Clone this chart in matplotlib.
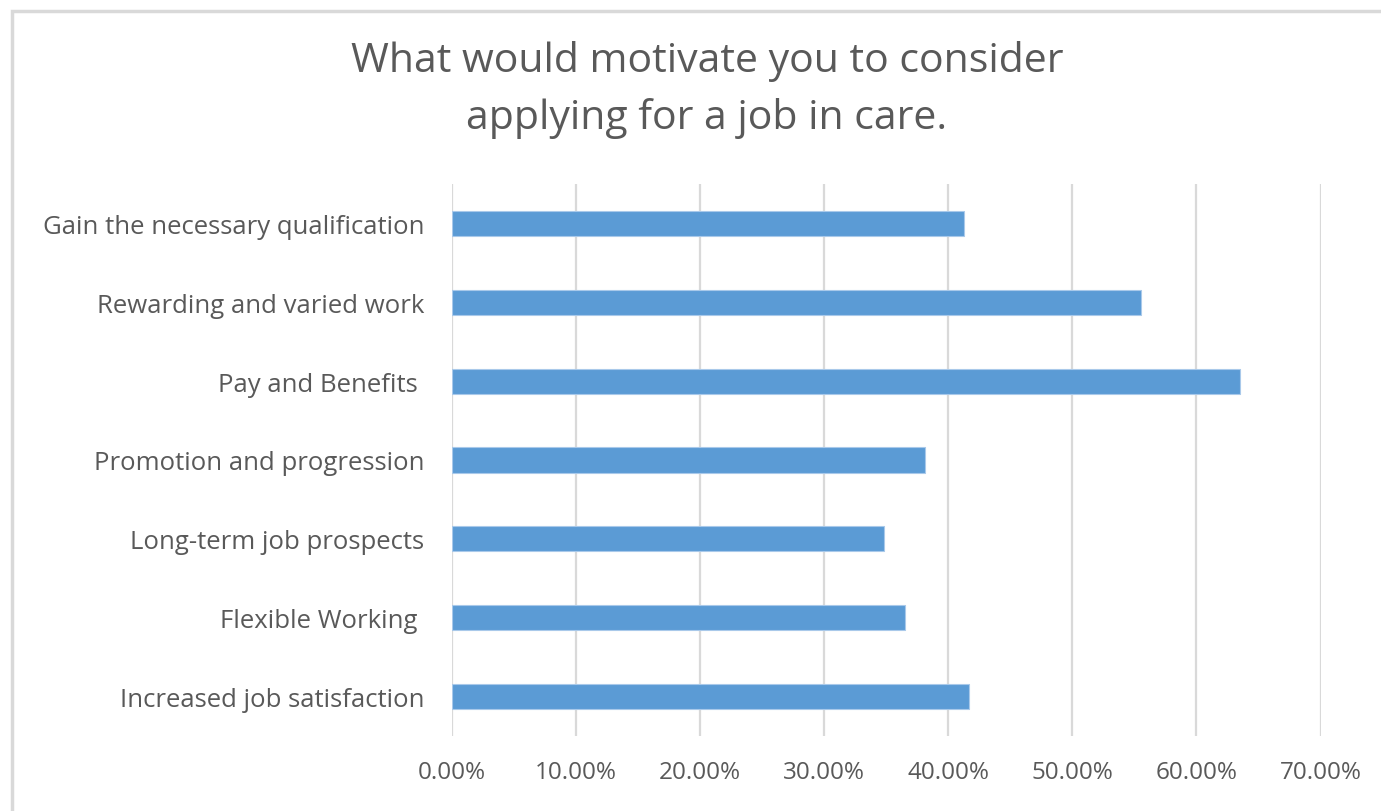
import matplotlib.pyplot as plt
from matplotlib.patches import Rectangle
from matplotlib.ticker import FuncFormatter

plt.rcParams['font.family'] = ['Open Sans', 'DejaVu Sans']

categories = ["Increased job satisfaction", "Flexible Working ", "Long-term job prospects",
              "Promotion and progression", "Pay and Benefits ", "Rewarding and varied work",
              "Gain the necessary qualification"]
values = [41.7, 36.5, 34.8, 38.1, 63.5, 55.5, 41.3]
xticks = [0, 10, 20, 30, 40, 50, 60, 70]

fig = plt.figure(figsize=(13.81, 8.12), dpi=100)
fig.patches.append(Rectangle((12 / 1381, -0.01), 1.0, 0.99 - 4 / 812 + 0.01,
                             transform=fig.transFigure, fill=False,
                             edgecolor='#d9d9d9', linewidth=2.5))

ax = fig.add_axes([452 / 1381, 75 / 812, 868.5 / 1381, 552 / 812])
ax.barh(range(len(categories)), values, height=0.32, color='#5b9bd5',
        edgecolor='#a9c9ea', linewidth=0.8, zorder=3)

ax.set_xlim(0, 70)
ax.set_ylim(-0.5, len(categories) - 0.5)
ax.set_xticks(xticks)
ax.xaxis.set_major_formatter(FuncFormatter(lambda v, p: "{:.2f}%".format(v)))
ax.set_yticks(range(len(categories)))
ax.set_yticklabels(categories, fontsize=18.5)
ax.grid(axis='x', color='#d9d9d9', linewidth=1.6, zorder=0)
for s in ax.spines.values():
    s.set_visible(False)
ax.tick_params(axis='both', length=0, labelsize=17.5, labelcolor='#595959')
ax.tick_params(axis='y', labelsize=18.5, pad=20)
ax.tick_params(axis='x', pad=17)

fig.text(707 / 1381, 1 - 90 / 812, "What would motivate you to consider\napplying for a job in care.",
         ha='center', va='center', fontsize=29.5, color='#595959', linespacing=1.5)

fig.savefig("out.png", dpi=100)
